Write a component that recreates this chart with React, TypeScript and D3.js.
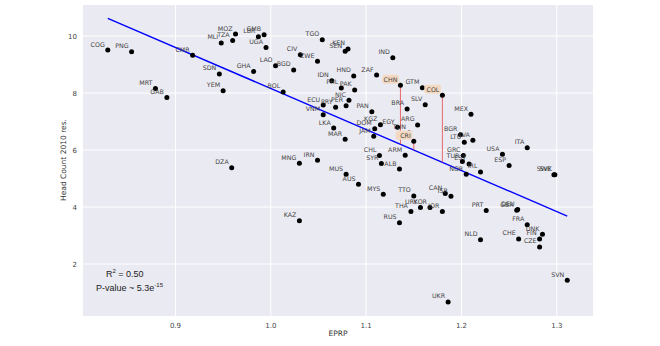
import React, { useEffect, useRef } from 'react';
import * as d3 from 'd3';

// country codes, EPRP and head count
const countries = [
  'COG', 'PNG', 'CMR', 'MLI', 'TZA', 'MOZ', 'SDN', 'YEM', 'MRT', 'GAB',
  'GHA', 'LBR', 'GMB', 'UGA', 'TGO', 'KEN', 'SEN', 'IND', 'CIV', 'ZWE',
  'LAO', 'BGD', 'BOL', 'IDN', 'HND', 'ZAF', 'PHL', 'PAK', 'CHN', 'GTM',
  'COL', 'NIC', 'PER', 'PRY', 'ECU', 'VNM', 'PAN', 'BRA', 'SLV', 'MEX',
  'DOM', 'KGZ', 'JAM', 'EGY', 'ARG', 'TUN', 'CRI', 'BGR', 'LTU', 'LVA',
  'ITA', 'USA', 'ESP', 'SWE', 'SVK', 'GRC', 'TUR', 'EST', 'IRL', 'NOR',
  'ARM', 'CHL', 'SYR', 'ALB', 'LKA', 'MAR', 'MNG', 'IRN', 'MUS', 'AUS',
  'MYS', 'TTO', 'CAN', 'ISR', 'THA', 'URY', 'KOR', 'JOR', 'RUS', 'KAZ',
  'DZA', 'PRT', 'GBR', 'DEU', 'FRA', 'DNK', 'FIN', 'CZE', 'CHE', 'NLD',
  'SVN', 'UKR',
];

const eprp = [
  0.829, 0.854, 0.918, 0.948, 0.960, 0.963, 0.946, 0.950, 0.879, 0.891,
  0.982, 0.987, 0.993, 0.995, 1.054, 1.081, 1.078, 1.128, 1.031, 1.049,
  1.005, 1.024, 1.013, 1.064, 1.087, 1.111, 1.074, 1.088, 1.136, 1.159,
  1.180, 1.082, 1.079, 1.068, 1.055, 1.055, 1.106, 1.143, 1.162, 1.210,
  1.109, 1.115, 1.108, 1.133, 1.154, 1.145, 1.150, 1.199, 1.203, 1.212,
  1.269, 1.243, 1.250, 1.297, 1.298, 1.202, 1.201, 1.208, 1.220, 1.205,
  1.141, 1.114, 1.116, 1.135, 1.066, 1.078, 1.030, 1.049, 1.079, 1.092,
  1.118, 1.150, 1.183, 1.189, 1.147, 1.157, 1.167, 1.180, 1.135, 1.030,
  0.959, 1.226, 1.258, 1.259, 1.269, 1.285, 1.282, 1.282, 1.260, 1.220,
  1.311, 1.186,
];

const headCount = [
  9.51, 9.45, 9.33, 9.76, 9.84, 10.07, 8.67, 8.08, 8.16, 7.84,
  8.76, 9.98, 10.05, 9.60, 9.87, 9.55, 9.47, 9.24, 9.34, 9.12,
  8.96, 8.81, 8.04, 8.43, 8.60, 8.63, 8.18, 8.11, 8.27, 8.19,
  7.92, 7.75, 7.55, 7.50, 7.58, 7.24, 7.34, 7.44, 7.59, 7.26,
  6.75, 6.89, 6.48, 6.80, 6.88, 6.60, 6.31, 6.54, 6.27, 6.34,
  6.08, 5.85, 5.46, 5.13, 5.13, 5.81, 5.60, 5.51, 5.23, 5.15,
  5.82, 5.81, 5.53, 5.33, 6.77, 6.38, 5.54, 5.64, 5.15, 4.80,
  4.45, 4.39, 4.47, 4.38, 3.84, 3.98, 3.98, 3.84, 3.45, 3.52,
  5.38, 3.88, 3.89, 3.91, 3.38, 3.04, 2.88, 2.60, 2.88, 2.85,
  1.43, 0.67,
];

const highlighted = ['CHN', 'COL', 'CRI'];

const xTicks = [0.9, 1.0, 1.1, 1.2, 1.3];
const yTicks = [2, 4, 6, 8, 10];

// fitted line: head count = intercept + slope * EPRP
const slope = -14.4;
const intercept = 22.56;

const width = 660;
const height = 346;
const plot = { left: 83, right: 593, top: 5, bottom: 316 };

const App = () => {
  const ref = useRef<SVGSVGElement>(null);

  useEffect(() => {
    const svg = d3.select(ref.current);
    svg.selectAll('*').remove();

    const x = d3.scaleLinear().domain([0.803, 1.338]).range([plot.left, plot.right]);
    const y = d3.scaleLinear().domain([0.175, 11.09]).range([plot.bottom, plot.top]);
    const fit = (v: number) => intercept + slope * v;

    const data = countries.map((c, i) => ({ c, x: eprp[i], y: headCount[i] }));

    // background
    svg.append('rect')
      .attr('x', plot.left)
      .attr('y', plot.top)
      .attr('width', plot.right - plot.left)
      .attr('height', plot.bottom - plot.top)
      .attr('fill', '#eaeaf2');

    // grid
    svg.append('g').selectAll('line')
      .data(xTicks)
      .join('line')
      .attr('x1', d => x(d)).attr('x2', d => x(d))
      .attr('y1', plot.top).attr('y2', plot.bottom)
      .attr('stroke', '#fff').attr('stroke-width', 1);

    svg.append('g').selectAll('line')
      .data(yTicks)
      .join('line')
      .attr('x1', plot.left).attr('x2', plot.right)
      .attr('y1', d => y(d)).attr('y2', d => y(d))
      .attr('stroke', '#fff').attr('stroke-width', 1);

    // tick labels
    svg.append('g').selectAll('text')
      .data(xTicks)
      .join('text')
      .attr('x', d => x(d))
      .attr('y', plot.bottom + 12)
      .attr('text-anchor', 'middle')
      .attr('font-size', 7)
      .attr('fill', '#444')
      .text(d => d3.format('.1f')(d));

    svg.append('g').selectAll('text')
      .data(yTicks)
      .join('text')
      .attr('x', plot.left - 6)
      .attr('y', d => y(d) + 2.5)
      .attr('text-anchor', 'end')
      .attr('font-size', 7)
      .attr('fill', '#444')
      .text(d => d);

    // axis titles
    svg.append('text')
      .attr('x', (plot.left + plot.right) / 2)
      .attr('y', 336)
      .attr('text-anchor', 'middle')
      .attr('font-size', 7.5)
      .attr('fill', '#333')
      .text('EPRP');

    svg.append('text')
      .attr('transform', 'rotate(-90)')
      .attr('x', -160)
      .attr('y', 66)
      .attr('text-anchor', 'middle')
      .attr('font-size', 7.5)
      .attr('fill', '#333')
      .text('Head Count 2010 res.');

    // regression line
    const [xmin, xmax] = d3.extent(eprp) as [number, number];
    svg.append('path')
      .datum([xmin, xmax])
      .attr('d', d3.line<number>().x(d => x(d)).y(d => y(fit(d))))
      .attr('stroke', '#0000ff')
      .attr('stroke-width', 1.4)
      .attr('fill', 'none');

    // residuals for highlighted countries
    const hi = data.filter(d => highlighted.includes(d.c));
    svg.append('g').selectAll('line')
      .data(hi)
      .join('line')
      .attr('x1', d => x(d.x)).attr('x2', d => x(d.x))
      .attr('y1', d => y(d.y)).attr('y2', d => y(fit(d.x)))
      .attr('stroke', '#e8474c')
      .attr('stroke-opacity', 0.8)
      .attr('stroke-width', 1);

    // points
    svg.append('g').selectAll('circle')
      .data(data)
      .join('circle')
      .attr('cx', d => x(d.x))
      .attr('cy', d => y(d.y))
      .attr('r', 2.5)
      .attr('fill', '#000');

    // labels
    const labels = svg.append('g')
      .attr('font-size', 6.3)
      .attr('fill', '#444')
      .attr('text-rendering', 'geometricPrecision')
      .selectAll('g')
      .data(data)
      .join('g')
      .attr('transform', d => `translate(${x(d.x) - 2}, ${y(d.y) - 3.5})`);

    labels.filter(d => highlighted.includes(d.c))
      .append('rect')
      .attr('x', -16)
      .attr('y', -7)
      .attr('width', 16.5)
      .attr('height', 9)
      .attr('rx', 2.5)
      .attr('fill', '#f3d9c1');

    labels.append('text')
      .attr('x', -1)
      .attr('text-anchor', 'end')
      .text(d => d.c);

    // fit stats
    const stats = svg.append('g').attr('font-family', 'Liberation Sans, Arial, sans-serif').attr('font-size', 9).attr('fill', '#222');
    const r2 = stats.append('text').attr('x', 106).attr('y', 277);
    r2.append('tspan').text('R');
    r2.append('tspan').attr('dy', -4).attr('font-size', 6).text('2');
    r2.append('tspan').attr('dy', 4).text('  = 0.50');

    const pv = stats.append('text').attr('x', 96).attr('y', 291);
    pv.append('tspan').text('P-value ~ 5.3e');
    pv.append('tspan').attr('dy', -4).attr('font-size', 6).text('-15');
  }, []);

  return (
    <svg
      ref={ref}
      width={width}
      height={height}
      style={{ position: 'absolute', left: 0, top: 0, background: '#fff', fontFamily: 'DejaVu Sans, sans-serif' }}
    />
  );
};

export default App;
